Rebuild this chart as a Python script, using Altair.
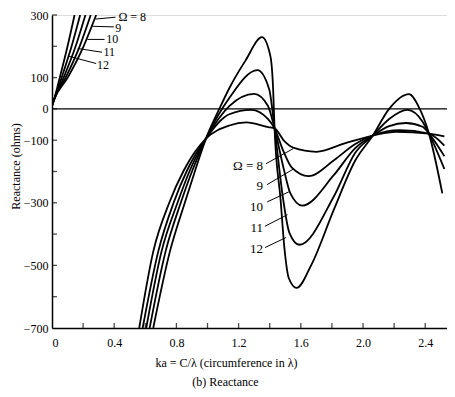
import altair as alt
import pandas as pd

FONT = "Liberation Serif"

omegas = [8, 9, 10, 11, 12]

# inductive branch near ka = 0 (same reactance levels for every curve)
x_low = [10, 28, 100, 200, 300]
ka_low = {
    8:  [0.0, 0.012, 0.101, 0.203, 0.284],
    9:  [0.0, 0.012, 0.088, 0.178, 0.249],
    10: [0.0, 0.012, 0.075, 0.152, 0.215],
    11: [0.0, 0.012, 0.062, 0.126, 0.181],
    12: [0.0, 0.012, 0.050, 0.100, 0.145],
}

# main branch (from -700 ohms up to the right edge)
ka_main = {
    8:  [0.561, 0.651, 0.754, 0.848, 0.99, 1.14, 1.25, 1.39, 1.431, 1.496, 1.551, 1.701,
         1.872, 2.063, 2.213, 2.424, 2.523],
    9:  [0.583, 0.683, 0.782, 0.869, 0.99, 1.14, 1.281, 1.388, 1.431, 1.488, 1.541, 1.651,
         1.813, 1.95, 2.063, 2.234, 2.424, 2.523],
    10: [0.606, 0.704, 0.807, 0.887, 0.99, 1.14, 1.30, 1.388, 1.431, 1.488, 1.533, 1.609,
         1.813, 1.95, 2.063, 2.168, 2.276, 2.383, 2.424, 2.523],
    11: [0.628, 0.730, 0.828, 0.903, 0.99, 1.14, 1.321, 1.397, 1.431, 1.487, 1.526, 1.591,
         1.813, 1.95, 2.063, 2.168, 2.286, 2.383, 2.424, 2.523],
    12: [0.651, 0.758, 0.854, 0.921, 0.99, 1.076, 1.14, 1.245, 1.35, 1.405, 1.422, 1.431,
         1.47, 1.495, 1.523, 1.573, 1.667, 1.813, 1.95, 2.063, 2.168, 2.295, 2.36, 2.424, 2.51],
}
x_main = {
    8:  [-700, -456, -300, -196, -95, -53, -43, -58, -62, -104, -124, -137,
         -112, -85, -73, -79, -88],
    9:  [-700, -456, -300, -196, -95, -17, -3, -32, -62, -135, -187, -215,
         -164, -112, -85, -68, -79, -117],
    10: [-700, -456, -300, -196, -95, 9, 48, 10, -62, -187, -270, -309,
         -211, -125, -85, -55, -45, -57, -79, -151],
    11: [-700, -456, -300, -196, -95, 35, 124, 62, -62, -291, -395, -434,
         -279, -140, -85, -32, -3, -41, -79, -192],
    12: [-700, -456, -300, -196, -95, 0, 66, 155, 229, 167, 62, -62,
         -291, -447, -541, -572, -499, -321, -165, -85, 0, 47, 5, -79, -270],
}

# tick positions and labels
x_tick_marks = [0.2, 0.4, 0.6, 0.8, 1.0, 1.2, 1.4, 1.6, 1.8, 2.0, 2.2, 2.4]
x_tick_labels = [0, 0.4, 0.8, 1.2, 1.6, 2.0, 2.4]
y_tick_marks = [-600, -500, -400, -300, -200, -100, 0, 100, 200, 300]
y_tick_labels = [300, 100, 0, -100, -300, -500, -700]

# curve labels (top-left group)
top_labels = ["Ω = 8", "9", "10", "11", "12"]
top_label_ka = [0.427, 0.406, 0.349, 0.331, 0.290]
top_label_x = [294, 259, 222, 181, 139]
top_lead_ka1 = [0.280, 0.259, 0.228, 0.165, 0.102]
top_lead_x1 = [287, 264, 222, 193, 169]
top_lead_ka2 = [0.408, 0.398, 0.338, 0.322, 0.284]
top_lead_x2 = [293, 262, 222, 181, 145]

# curve labels (middle group)
mid_labels = ["Ω = 8", "9", "10", "11", "12"]
mid_label_ka = [1.357, 1.357, 1.357, 1.357, 1.357]
mid_label_x = [-183, -247, -313, -381, -448]
mid_lead_ka1 = [1.377, 1.383, 1.384, 1.369, 1.370]
mid_lead_x1 = [-175, -242, -297, -375, -443]
mid_lead_ka2 = [1.551, 1.553, 1.523, 1.514, 1.505]
mid_lead_x2 = [-127, -192, -265, -338, -411]

rows = []
for om in omegas:
    for i, (k, v) in enumerate(zip(ka_low[om], x_low)):
        rows.append({"omega": om, "curve": f"{om}-low", "ka": k, "X": v, "i": i})
    for i, (k, v) in enumerate(zip(ka_main[om], x_main[om])):
        rows.append({"omega": om, "curve": f"{om}-main", "ka": k, "X": v, "i": i})
curves = pd.DataFrame(rows)

xs = alt.Scale(domain=[0, 2.54], nice=False, zero=False)
ys = alt.Scale(domain=[-700, 300], nice=False, zero=False)

x_axis = alt.Axis(
    values=x_tick_labels, ticks=False, tickSize=0, grid=False,
    labelExpr="datum.value == 0 ? '0' : format(datum.value, '.1f')",
    labelFont=FONT, labelFontSize=12, labelColor="black", labelPadding=9,
    domainColor="black", domainWidth=1.5,
    title="ka = C/λ (circumference in λ)", titleFont=FONT, titleFontSize=12,
    titleFontWeight="normal", titleColor="black",
    titleX=174, titleY=38, titleAlign="center", titleBaseline="alphabetic",
)
y_axis = alt.Axis(
    values=y_tick_labels, ticks=False, tickSize=0, grid=False,
    labelFont=FONT, labelFontSize=12, labelColor="black", labelPadding=4,
    domainColor="black", domainWidth=1.5,
    title="Reactance (ohms)", titleFont=FONT, titleFontSize=12,
    titleFontWeight="normal", titleColor="black",
    titleX=-37, titleY=151, titleAngle=270, titleAlign="center", titleBaseline="middle",
)

lines = alt.Chart(curves).mark_line(
    interpolate="monotone", color="black", strokeWidth=1.8, clip=True
).encode(
    x=alt.X("ka:Q", scale=xs, axis=x_axis),
    y=alt.Y("X:Q", scale=ys, axis=y_axis),
    detail="curve:N",
    order="i:Q",
)

zero_line = alt.Chart(pd.DataFrame({"X": [0]})).mark_rule(
    color="black", strokeWidth=1.1
).encode(y=alt.Y("X:Q", scale=ys))

xt = alt.Chart(pd.DataFrame({"t": x_tick_marks, "b": [-700] * len(x_tick_marks)})).mark_tick(
    orient="vertical", size=5, thickness=1.3, yOffset=-2.5, color="black"
).encode(x=alt.X("t:Q", scale=xs), y=alt.Y("b:Q", scale=ys))

yt = alt.Chart(pd.DataFrame({"t": y_tick_marks, "b": [0] * len(y_tick_marks)})).mark_tick(
    orient="horizontal", size=5, thickness=1.3, xOffset=2.5, color="black"
).encode(x=alt.X("b:Q", scale=xs), y=alt.Y("t:Q", scale=ys))

top_lab = alt.Chart(pd.DataFrame({"t": top_labels, "ka": top_label_ka, "X": top_label_x})).mark_text(
    align="left", baseline="middle", font=FONT, fontSize=12, color="black"
).encode(x=alt.X("ka:Q", scale=xs), y=alt.Y("X:Q", scale=ys), text="t:N")

top_lead = alt.Chart(pd.DataFrame({
    "a": top_lead_ka1, "b": top_lead_x1, "c": top_lead_ka2, "d": top_lead_x2
})).mark_rule(color="black", strokeWidth=1).encode(
    x=alt.X("a:Q", scale=xs), y=alt.Y("b:Q", scale=ys), x2="c:Q", y2="d:Q"
)

mid_lab = alt.Chart(pd.DataFrame({"t": mid_labels, "ka": mid_label_ka, "X": mid_label_x})).mark_text(
    align="right", baseline="middle", font=FONT, fontSize=13, color="black"
).encode(x=alt.X("ka:Q", scale=xs), y=alt.Y("X:Q", scale=ys), text="t:N")

mid_lead = alt.Chart(pd.DataFrame({
    "a": mid_lead_ka1, "b": mid_lead_x1, "c": mid_lead_ka2, "d": mid_lead_x2
})).mark_rule(color="black", strokeWidth=1).encode(
    x=alt.X("a:Q", scale=xs), y=alt.Y("b:Q", scale=ys), x2="c:Q", y2="d:Q"
)

chart = alt.layer(
    zero_line, lines, xt, yt, top_lead, top_lab, mid_lead, mid_lab
).properties(
    width=395,
    height=313,
    padding={"left": 44, "top": 7, "right": 0, "bottom": 61},
    autosize=alt.AutoSizeParams(type="none"),
    title=alt.TitleParams(
        "(b)  Reactance", orient="bottom", anchor="middle", dx=-24, offset=9,
        font=FONT, fontSize=12, fontWeight="normal", color="black",
    ),
).configure_view(stroke=None).configure(background="white")

chart.save("out.html", embed_options={"renderer": "svg", "actions": False})
